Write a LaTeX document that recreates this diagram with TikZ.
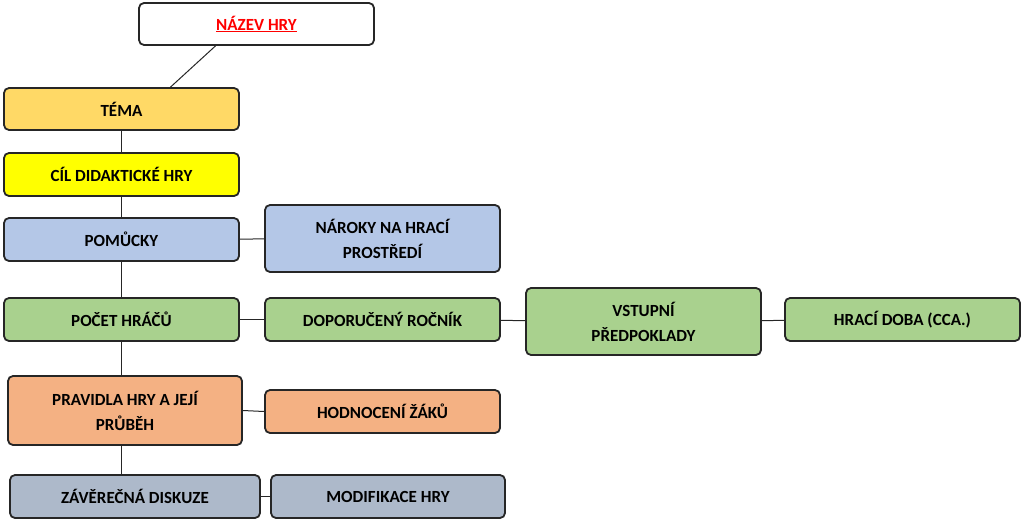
\documentclass[tikz,border=0pt]{standalone}
\usepackage{fontspec}
\setmainfont{Carlito}
\begin{document}
\begin{tikzpicture}[x=1pt,y=-1pt,
  box/.style={draw=black!85,line width=1.8pt,rounded corners=5pt,font=\fontsize{17}{21}\selectfont\bfseries,align=center,inner sep=0pt},
  ln/.style={line width=1pt,black!85}]
\useasboundingbox (0,0) rectangle (1024,524);
\definecolor{cTema}{HTML}{FFD966}
\definecolor{cCil}{HTML}{FFFF00}
\definecolor{cBlue}{HTML}{B4C7E7}
\definecolor{cGreen}{HTML}{A9D18E}
\definecolor{cOr}{HTML}{F4B183}
\definecolor{cGray}{HTML}{ADB9CA}
\newcommand{\bx}[7]{\node[box,fill=#6,minimum width=#3-#2,minimum height=#5-#4] (#1) at ({(#2+#3)/2},{(#4+#5)/2}) {#7};}
\bx{nazev}{139}{374}{3}{45}{white}{\textcolor{red}{$\underline{\hbox{NÁZEV HRY}}$}}
\bx{tema}{4}{239}{88}{130}{cTema}{TÉMA}
\bx{cil}{4}{239}{153}{196}{cCil}{CÍL DIDAKTICKÉ HRY}
\bx{pom}{4}{239}{218}{261}{cBlue}{POMŮCKY}
\bx{nar}{265}{500}{205}{272}{cBlue}{NÁROKY NA HRACÍ\\[4pt]PROSTŘEDÍ}
\bx{poc}{4}{239}{298}{341}{cGreen}{POČET HRÁČŮ}
\bx{dop}{265}{500}{298}{341}{cGreen}{DOPORUČENÝ ROČNÍK}
\bx{vst}{526}{761}{288}{355}{cGreen}{VSTUPNÍ\\[4pt]PŘEDPOKLADY}
\bx{hra}{785}{1020}{298}{341}{cGreen}{HRACÍ DOBA (CCA.)}
\bx{pra}{8}{242}{376}{445}{cOr}{PRAVIDLA HRY A JEJÍ\\[4pt]PRŮBĚH}
\bx{hod}{265}{500}{390}{433}{cOr}{HODNOCENÍ ŽÁKŮ}
\bx{zav}{10}{260}{475}{518}{cGray}{ZÁVĚREČNÁ DISKUZE}
\bx{mod}{271}{505}{475}{518}{cGray}{MODIFIKACE HRY}
\draw[ln] ([xshift=-41pt]nazev.south) -- ([xshift=49pt]tema.north);
\draw[ln] (tema) -- (cil);
\draw[ln] (cil) -- (pom);
\draw[ln] (pom) -- (poc);
\draw[ln] (poc.south) -- (poc.south |- pra.north);
\draw[ln] (poc.south |- pra.south) -- (poc.south |- zav.north);
\draw[ln] (pom) -- (nar);
\draw[ln] (poc) -- (dop);
\draw[ln] (dop) -- (vst);
\draw[ln] (vst) -- (hra);
\draw[ln] (pra.east) -- (hod.west);
\draw[ln] (zav) -- (mod);
\end{tikzpicture}
\end{document}
